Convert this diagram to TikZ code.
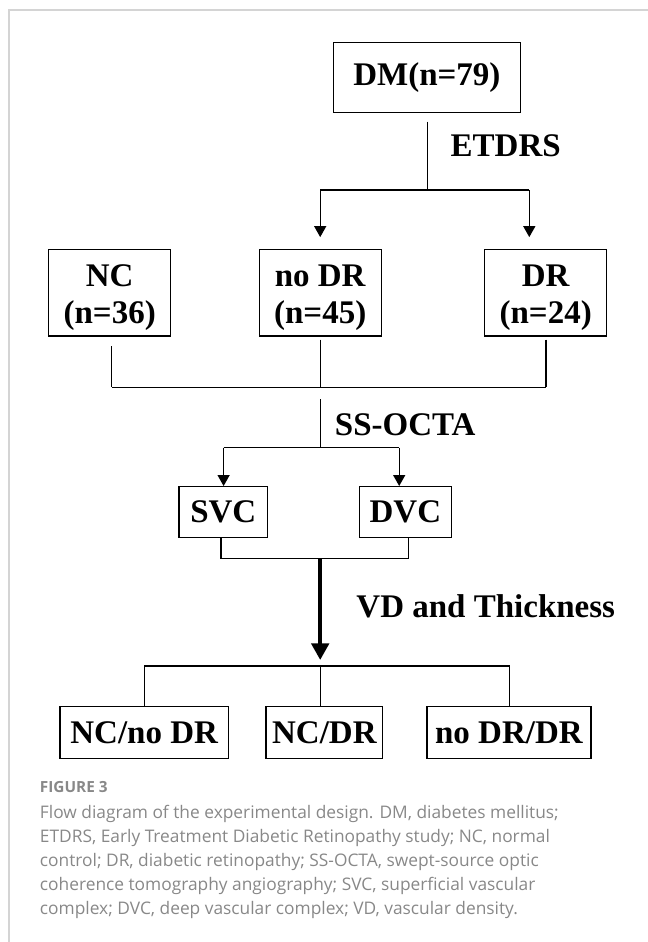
\documentclass[tikz,border=0pt]{standalone}
\usepackage{fontspec}
\setmainfont{Liberation Serif}
\newfontfamily\capfont{Open Sans}
\usepackage{xcolor}
\usetikzlibrary{arrows.meta}
\definecolor{capgray}{HTML}{888888}
\definecolor{framegray}{HTML}{D4D4D4}
\newcommand{\twoline}[2]{\raisebox{-3.8pt}[\height][\depth]{\begin{tabular}{@{}c@{}}#1\\#2\end{tabular}}}

\begin{document}
\begin{tikzpicture}[x=0.75pt, y=-0.75pt,
    box/.style={draw, line width=1pt, inner sep=0pt, align=center,
        font=\bfseries\fontsize{24.75}{27.75}\selectfont},
    lbl/.style={anchor=west, inner sep=0pt, font=\bfseries\fontsize{24.75}{30}\selectfont},
    link/.style={line width=0.9pt},
    arr/.style={line width=0.9pt, -{Triangle[length=8.2pt, width=9pt]}},
    bigarr/.style={line width=3pt, -{Triangle[length=12.5pt, width=13pt]}},
    captxt/.style={anchor=base west, inner sep=0pt, text=capgray,
        font=\capfont\fontsize{13}{18}\selectfont}]
    \useasboundingbox (0,0) rectangle (648,942);

    % Frame
    \draw[framegray, line width=0.8pt] (9,942) -- (9,10) -- (648,10);

    % Boxes
    \node[box, minimum width=140pt, minimum height=52.5pt] (dm) at (426.9,77.7) {DM(n=79)};
    \node[box, minimum width=91.5pt, minimum height=65pt] (nc) at (109.7,292.7) {\twoline{NC}{(n=36)}};
    \node[box, minimum width=91.5pt, minimum height=65pt] (nodr) at (320.2,292.7) {\twoline{no DR}{(n=45)}};
    \node[box, minimum width=91.5pt, minimum height=65pt] (dr) at (545.7,292.7) {\twoline{DR}{(n=24)}};
    \node[box, minimum width=66.7pt, minimum height=38pt] (svc) at (223.3,512) {SVC};
    \node[box, minimum width=68.8pt, minimum height=38pt] (dvc) at (405.4,512) {DVC};
    \node[box, minimum width=126.5pt, minimum height=38.7pt] (ncnodr) at (144.2,732.5) {NC/no DR};
    \node[box, minimum width=87.4pt, minimum height=38.7pt] (ncdr) at (324.4,732.5) {NC/DR};
    \node[box, minimum width=123pt, minimum height=38.7pt] (nodrdr) at (508.9,732.5) {no DR/DR};

    % Labels
    \node[lbl] (etdrs) at (450.4,146) {ETDRS};
    \node[lbl] (octa) at (334.7,425) {SS-OCTA};
    \node[lbl] (vdth) at (356.2,606.7) {VD and Thickness};

    % Junctions
    \coordinate (j1) at (427.3,190);
    \coordinate (a1) at (320.2,190);
    \coordinate (a2) at (529.3,190);
    \coordinate (m1) at (111.6,387.3);
    \coordinate (m2) at (320.2,387.3);
    \coordinate (m3) at (545.9,387.3);
    \coordinate (s0) at (320.2,399.3);
    \coordinate (s1) at (320.2,447.7);
    \coordinate (s2) at (223.6,447.7);
    \coordinate (s3) at (399.2,447.7);
    \coordinate (t1) at (221,558.3);
    \coordinate (t0) at (320.2,558.3);
    \coordinate (t2) at (408.3,558.3);
    \coordinate (b1) at (144.2,666);
    \coordinate (b0) at (320.2,666);
    \coordinate (b3) at (509.5,666);

    % ETDRS split
    \draw[link, shorten <=6.2pt] (dm.south -| j1) -- (j1);
    \draw[link] (a1) -- (a2);
    \draw[arr, shorten >=8.7pt] (a1) -- (a1 |- nodr.north);
    \draw[arr, shorten >=8.7pt] (a2) -- (a2 |- dr.north);

    % Merge of the three groups
    \draw[link] (m1) -- (m3);
    \draw[link, shorten <=7.3pt] (nc.south -| m1) -- (m1);
    \draw[link, shorten <=2.2pt] (nodr.south -| m2) -- (m2);
    \draw[link, shorten <=2.2pt] (dr.south -| m3) -- (m3);

    % SS-OCTA split
    \draw[link] (s0) -- (s1);
    \draw[link] (s2) -- (s3);
    \draw[arr] (s2) -- (s2 |- svc.north);
    \draw[arr] (s3) -- (s3 |- dvc.north);

    % SVC and DVC merge
    \draw[link] (svc.south -| t1) -- (t1) -- (t2) -- (dvc.south -| t2);
    \draw[bigarr, shorten >=4.5pt] (t0) -- (b0);

    % Comparisons
    \draw[link] (b1) -- (b3);
    \draw[link] (b1) -- (ncnodr.north -| b1);
    \draw[link] (b0) -- (ncdr.north -| b0);
    \draw[link] (b3) -- (nodrdr.north -| b3);

    % Caption
    \node[captxt, font=\capfont\bfseries\fontsize{11.5}{13}\selectfont] (fig) at (39.7,792) {FIGURE 3};
    \node[captxt] (c1) at (39.7,818) {Flow diagram of the experimental design. DM, diabetes mellitus;};
    \node[captxt] (c2) at (39.7,842) {ETDRS, Early Treatment Diabetic Retinopathy study; NC, normal};
    \node[captxt] (c3) at (39.7,866) {control; DR, diabetic retinopathy; SS-OCTA, swept-source optic};
    \node[captxt] (c4) at (39.7,890) {coherence tomography angiography; SVC, superficial vascular};
    \node[captxt] (c5) at (39.7,914) {complex; DVC, deep vascular complex; VD, vascular density.};
\end{tikzpicture}
\end{document}
